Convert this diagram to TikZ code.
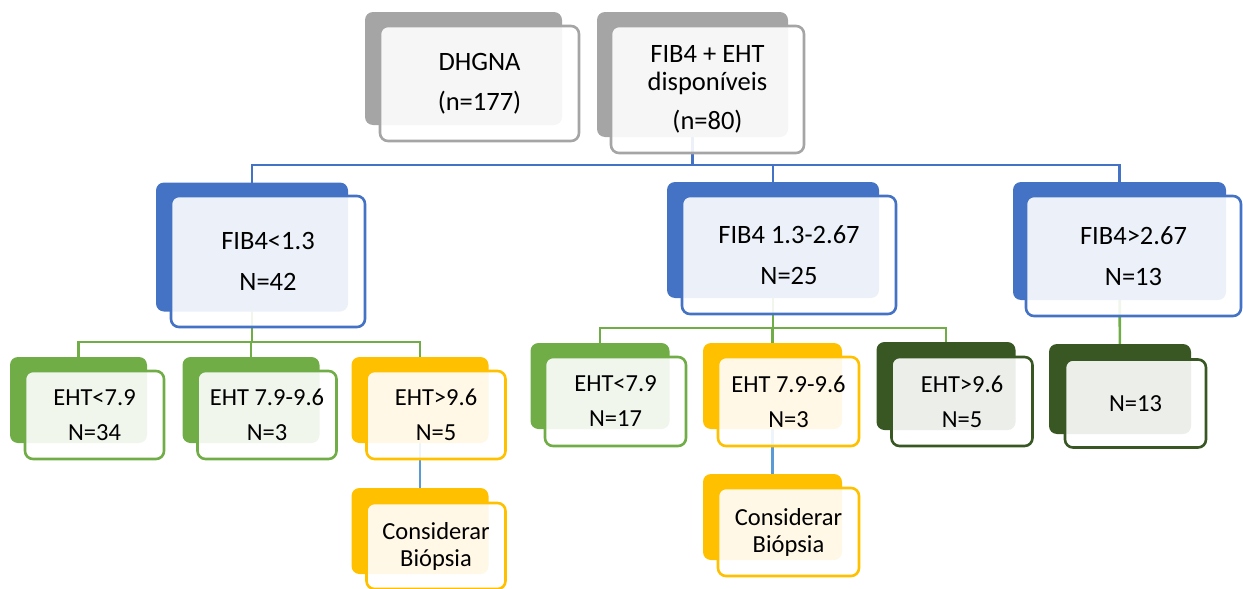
\documentclass[tikz,border=0pt]{standalone}
\usepackage{fontspec}
\setmainfont{Carlito}
\usetikzlibrary{backgrounds}

\definecolor{cgray}{HTML}{A5A5A5}
\definecolor{cblue}{HTML}{4472C4}
\definecolor{cgreen}{HTML}{70AD47}
\definecolor{cgold}{HTML}{FFC000}
\definecolor{cdark}{HTML}{385723}
\definecolor{clink}{HTML}{5B9BD5}

\begin{document}
\begin{tikzpicture}[x=1pt, y=-1pt,
	front/.style = {draw=#1, line width=2.6pt, rounded corners=8pt, fill=white, fill opacity=0.9, text opacity=1, align=center, inner sep=0pt},
	back/.style = {fill=#1, rounded corners=8pt, inner sep=0pt},
	big/.style = {font=\fontsize{26.5}{30}\selectfont},
	small/.style = {font=\fontsize{24.5}{28}\selectfont},
	tree/.style = {draw=#1, line width=2.6pt}]

		\useasboundingbox (0,0) rectangle (1243,589);

		% top row
		\node[back=cgray, minimum width=197pt, minimum height=113pt] (dhgnaB) at (463.5,68.5) {};
		\node[front=cgray, big, minimum width=199pt, minimum height=115pt] (dhgna) at (479.5,83.5) {DHGNA\\[10pt](n=177)};
		\node[back=cgray, minimum width=191pt, minimum height=125pt] (fibehtB) at (692.5,74.5) {};
		\node[front=cgray, big, minimum width=193pt, minimum height=127pt] (fibeht) at (707.5,89.5) {FIB4 + EHT\\[-2pt]disponíveis\\[9pt](n=80)};

		% FIB4 groups
		\node[back=cblue, minimum width=192pt, minimum height=129pt] (fibloB) at (252,247) {};
		\node[front=cblue, big, minimum width=194pt, minimum height=131pt] (fiblo) at (268,261.5) {FIB4<1.3\\[11pt]N=42};
		\node[back=cblue, minimum width=212pt, minimum height=116pt] (fibmidB) at (773,240) {};
		\node[front=cblue, big, minimum width=214pt, minimum height=118pt] (fibmid) at (789,255) {FIB4 1.3-2.67\\[11pt]N=25};
		\node[back=cblue, minimum width=213pt, minimum height=118pt] (fibhiB) at (1119.5,241) {};
		\node[front=cblue, big, minimum width=215pt, minimum height=120pt] (fibhi) at (1133.5,256) {FIB4>2.67\\[11pt]N=13};

		% EHT under FIB4<1.3
		\node[back=cgreen, minimum width=137pt, minimum height=86pt] (ehtlo1B) at (78.5,400) {};
		\node[front=cgreen, small, minimum width=139pt, minimum height=88pt] (ehtlo1) at (94.5,415) {EHT<7.9\\[7pt]N=34};
		\node[back=cgreen, minimum width=137pt, minimum height=86pt] (ehtmd1B) at (251,400) {};
		\node[front=cgreen, small, minimum width=139pt, minimum height=88pt] (ehtmd1) at (267,415) {EHT 7.9-9.6\\[7pt]N=3};
		\node[back=cgold, minimum width=137pt, minimum height=86pt] (ehthi1B) at (420,400) {};
		\node[front=cgold, small, minimum width=139pt, minimum height=88pt] (ehthi1) at (436,415) {EHT>9.6\\[7pt]N=5};
		\node[back=cgold, minimum width=137pt, minimum height=86pt] (biop1B) at (420,531) {};
		\node[front=cgold, small, minimum width=139pt, minimum height=86pt] (biop1) at (436,546) {Considerar\\[-1pt]Biópsia};

		% EHT under FIB4 1.3-2.67
		\node[back=cgreen, minimum width=139pt, minimum height=86pt] (ehtlo2B) at (600,386) {};
		\node[front=cgreen, small, minimum width=141pt, minimum height=89pt] (ehtlo2) at (615.5,401.5) {EHT<7.9\\[7pt]N=17};
		\node[back=cgold, minimum width=139pt, minimum height=86pt] (ehtmd2B) at (772.5,386) {};
		\node[front=cgold, small, minimum width=141pt, minimum height=89pt] (ehtmd2) at (788.5,401.5) {EHT 7.9-9.6\\[7pt]N=3};
		\node[back=cdark, minimum width=139pt, minimum height=88pt] (ehthi2B) at (946,386) {};
		\node[front=cdark, small, minimum width=141pt, minimum height=89pt] (ehthi2) at (962,401.5) {EHT>9.6\\[7pt]N=5};
		\node[back=cgold, minimum width=139pt, minimum height=86pt] (biop2B) at (772.5,517) {};
		\node[front=cgold, small, minimum width=141pt, minimum height=88pt] (biop2) at (788.5,532) {Considerar\\[-1pt]Biópsia};

		% FIB4>2.67
		\node[back=cdark, minimum width=142pt, minimum height=90pt] (n13B) at (1120,389) {};
		\node[front=cdark, small, minimum width=141pt, minimum height=88pt] (n13) at (1135.5,403.5) {N=13};

		\coordinate (busA) at (692.5,165);
		\coordinate (busB) at (252,342);
		\coordinate (busC) at (773,328);

		\begin{scope}[on background layer]
			\draw[tree=cblue] (fibehtB.center) -- (busA) -| (fibloB.center);
			\draw[tree=cblue] (busA) -| (fibmidB.center);
			\draw[tree=cblue] (busA) -| (fibhiB.center);

			\draw[tree=cgreen] (fibloB.center) -- (busB) -| (ehtlo1B.center);
			\draw[tree=cgreen] (busB) -| (ehtmd1B.center);
			\draw[tree=cgreen] (busB) -| (ehthi1B.center);

			\draw[tree=cgreen] (fibmidB.center) -- (busC) -| (ehtlo2B.center);
			\draw[tree=cgreen] (busC) -| (ehtmd2B.center);
			\draw[tree=cgreen] (busC) -| (ehthi2B.center);

			\draw[tree=cgreen] (fibhiB.center) -- (n13B.center);

			\draw[tree=clink] (ehthi1B.center) -- (biop1B.center);
			\draw[tree=clink] (ehtmd2B.center) -- (biop2B.center);
		\end{scope}
	\end{tikzpicture}
\end{document}
